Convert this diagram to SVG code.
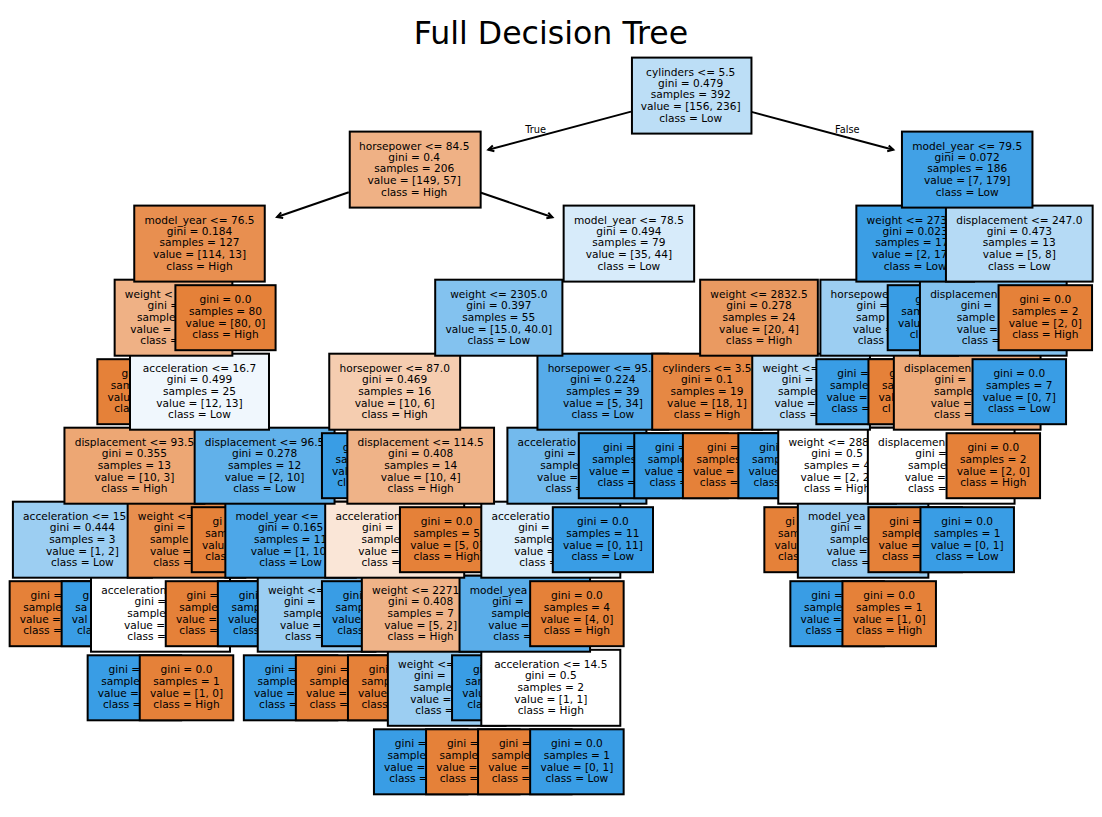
<svg xmlns="http://www.w3.org/2000/svg" width="1102" height="817" viewBox="0 0 1102 817">
<style>
rect{stroke:#000;stroke-width:2}
.o{fill:#e58139}.b{fill:#399de5}.w{fill:#ffffff}
text{font-family:"DejaVu Sans",sans-serif;font-size:10.6px;fill:#000;text-anchor:middle}
text.s{text-anchor:start}
.lbl{font-size:9.8px}
.t{font-size:31.6px}
.cn line{stroke:#000;stroke-width:2;marker-end:url(#ah)}
</style>
<defs>
<marker id="ah" markerUnits="userSpaceOnUse" markerWidth="14" markerHeight="14" viewBox="-8 -7 14 14" refX="0" refY="0" orient="auto">
<path d="M-5.5,-3 L0,0 L-5.5,3" fill="none" stroke="#000" stroke-width="2"/>
</marker>
</defs>
<text class="t" x="551" y="44">Full Decision Tree</text>

<g id="connectors" class="cn">
<line x1="631" y1="111.6" x2="488.3" y2="149.8"/>
<line x1="750.5" y1="111.6" x2="893.3" y2="149.8"/>
<line x1="348.8" y1="192.2" x2="277" y2="217"/>
<line x1="479.6" y1="192.2" x2="552.5" y2="217.3"/>
<text class="lbl" x="546" y="132.6" style="text-anchor:end">True</text>
<text class="lbl s" x="835" y="132.6">False</text>
</g>

<!-- depth 9 -->
<g id="n33"><rect class="b" x="373.95" y="729.3" width="93.5" height="65"/><text class="s" x="394.8" y="747.3">gini =</text><text class="s" x="387.5" y="758.8">sample</text><text class="s" x="384.1" y="770.6">value =</text><text class="s" x="389.2" y="782">class =</text></g>
<g id="n34"><rect class="o" x="426.05" y="729.3" width="93.5" height="65"/><text class="s" x="446.9" y="747.3">gini =</text><text class="s" x="439.6" y="758.8">sample</text><text class="s" x="436.2" y="770.6">value =</text><text class="s" x="439.65" y="782">class =</text></g>
<g id="n42"><rect class="o" x="478.05" y="729.3" width="93.5" height="65"/><text class="s" x="498.9" y="747.3">gini =</text><text class="s" x="491.6" y="758.8">sample</text><text class="s" x="488.2" y="770.6">value =</text><text class="s" x="491.65" y="782">class =</text></g>
<g id="n43"><rect class="b" x="530.15" y="729.3" width="93.5" height="65"/><text x="576.9" y="747.3">gini = 0.0</text><text x="576.9" y="758.8">samples = 1</text><text x="576.9" y="770.6">value = [0, 1]</text><text x="576.9" y="782">class = Low</text></g>

<!-- depth 8 -->
<g id="n12"><rect class="b" x="87.65" y="655.3" width="93.5" height="65"/><text class="s" x="108.5" y="673.3">gini =</text><text class="s" x="101.2" y="684.8">sample</text><text class="s" x="97.8" y="696.6">value =</text><text class="s" x="102.9" y="708">class =</text></g>
<g id="n13"><rect class="o" x="139.75" y="655.3" width="93.5" height="65"/><text x="186.5" y="673.3">gini = 0.0</text><text x="186.5" y="684.8">samples = 1</text><text x="186.5" y="696.6">value = [1, 0]</text><text x="186.5" y="708">class = High</text></g>
<g id="n20"><rect class="b" x="243.85" y="655.3" width="93.5" height="65"/><text class="s" x="264.7" y="673.3">gini =</text><text class="s" x="257.4" y="684.8">sample</text><text class="s" x="254" y="696.6">value =</text><text class="s" x="259.1" y="708">class =</text></g>
<g id="n21"><rect class="o" x="295.85" y="655.3" width="93.5" height="65"/><text class="s" x="316.7" y="673.3">gini =</text><text class="s" x="309.4" y="684.8">sample</text><text class="s" x="306" y="696.6">value =</text><text class="s" x="309.45" y="708">class =</text></g>
<g id="n31"><rect class="o" x="347.95" y="655.3" width="93.5" height="65"/><text class="s" x="368.8" y="673.3">gini</text><text class="s" x="361.5" y="684.8">samp</text><text class="s" x="358.1" y="696.6">value</text><text class="s" x="361.55" y="708">class</text></g>
<g id="n32"><rect fill="#9ccef2" x="387.85" y="649.8" width="117.7" height="76"/><text class="s" x="398.05" y="668">weight &lt;=</text><text class="s" x="414.05" y="679.2">gini =</text><text class="s" x="413.5" y="690.6">sample</text><text class="s" x="410.15" y="702.6">value =</text><text class="s" x="415.2" y="713.8">class =</text></g>
<g id="n40"><rect class="b" x="452.05" y="655.3" width="93.5" height="65"/><text class="s" x="472.9" y="673.3">gi</text><text class="s" x="465.6" y="684.8">sam</text><text class="s" x="462.2" y="696.6">valu</text><text class="s" x="467.3" y="708">cla</text></g>
<g id="n41"><rect class="w" x="481.3" y="649.8" width="139" height="76"/><text x="550.8" y="668">acceleration &lt;= 14.5</text><text x="550.8" y="679.2">gini = 0.5</text><text x="550.8" y="690.6">samples = 2</text><text x="550.8" y="702.6">value = [1, 1]</text><text x="550.8" y="713.8">class = High</text></g>

<!-- depth 7 -->
<g id="n8"><rect class="o" x="9.65" y="581.2" width="93.5" height="65"/><text class="s" x="30.5" y="599.2">gini =</text><text class="s" x="23.2" y="610.7">sample</text><text class="s" x="19.8" y="622.5">value =</text><text class="s" x="23.25" y="633.9">class =</text></g>
<g id="n9"><rect class="b" x="61.65" y="581.2" width="93.5" height="65"/><text class="s" x="82.5" y="599.2">g</text><text class="s" x="75.2" y="610.7">sa</text><text class="s" x="71.8" y="622.5">val</text><text class="s" x="76.9" y="633.9">cla</text></g>
<g id="n11"><rect class="w" x="91" y="575.7" width="139" height="76"/><text class="s" x="101.2" y="593.9">acceleration</text><text class="s" x="134.6" y="605.1">gini =</text><text class="s" x="127.3" y="616.5">sample</text><text class="s" x="123.95" y="628.5">value =</text><text class="s" x="127.35" y="639.7">class =</text></g>
<g id="n14"><rect class="o" x="165.75" y="581.2" width="93.5" height="65"/><text class="s" x="186.6" y="599.2">gini =</text><text class="s" x="179.3" y="610.7">sample</text><text class="s" x="175.9" y="622.5">value =</text><text class="s" x="179.35" y="633.9">class =</text></g>
<g id="n18"><rect class="b" x="217.85" y="581.2" width="93.5" height="65"/><text class="s" x="238.7" y="599.2">gini</text><text class="s" x="231.4" y="610.7">samp</text><text class="s" x="228" y="622.5">value</text><text class="s" x="233.1" y="633.9">class</text></g>
<g id="n19"><rect fill="#9ccef2" x="257.75" y="575.7" width="117.7" height="76"/><text class="s" x="267.95" y="593.9">weight &lt;=</text><text class="s" x="283.95" y="605.1">gini =</text><text class="s" x="283.4" y="616.5">sample</text><text class="s" x="280.05" y="628.5">value =</text><text class="s" x="285.1" y="639.7">class =</text></g>
<g id="n29"><rect class="b" x="321.95" y="581.2" width="93.5" height="65"/><text class="s" x="342.8" y="599.2">gini</text><text class="s" x="335.5" y="610.7">samp</text><text class="s" x="332.1" y="622.5">value</text><text class="s" x="337.2" y="633.9">class</text></g>
<g id="n30"><rect fill="#efb388" x="361.85" y="575.7" width="117.7" height="76"/><text class="s" x="372.05" y="593.9">weight &lt;= 2271</text><text x="420.7" y="605.1">gini = 0.408</text><text x="420.7" y="616.5">samples = 7</text><text x="420.7" y="628.5">value = [5, 2]</text><text x="420.7" y="639.7">class = High</text></g>
<g id="n39"><rect fill="#5aade9" x="459.55" y="575.7" width="130.5" height="76"/><text class="s" x="469.75" y="593.9">model_yea</text><text class="s" x="492.15" y="605.1">gini =</text><text class="s" x="491.6" y="616.5">sample</text><text class="s" x="488.25" y="628.5">value =</text><text class="s" x="493.3" y="639.7">class =</text></g>
<g id="n44"><rect class="o" x="530.15" y="581.2" width="93.5" height="65"/><text x="576.9" y="599.2">gini = 0.0</text><text x="576.9" y="610.7">samples = 4</text><text x="576.9" y="622.5">value = [4, 0]</text><text x="576.9" y="633.9">class = High</text></g>
<g id="n56"><rect class="b" x="790.35" y="581.2" width="93.5" height="65"/><text class="s" x="811.2" y="599.2">gini =</text><text class="s" x="803.9" y="610.7">sample</text><text class="s" x="800.5" y="622.5">value =</text><text class="s" x="805.6" y="633.9">class =</text></g>
<g id="n57"><rect class="o" x="842.45" y="581.2" width="93.5" height="65"/><text x="889.2" y="599.2">gini = 0.0</text><text x="889.2" y="610.7">samples = 1</text><text x="889.2" y="622.5">value = [1, 0]</text><text x="889.2" y="633.9">class = High</text></g>

<!-- depth 6 -->
<g id="n7"><rect fill="#9ccef2" x="12.9" y="501.7" width="139" height="76"/><text class="s" x="23.1" y="519.9">acceleration &lt;= 15</text><text x="82.4" y="531.1">gini = 0.444</text><text x="82.4" y="542.5">samples = 3</text><text x="82.4" y="554.5">value = [1, 2]</text><text x="82.4" y="565.7">class = Low</text></g>
<g id="n10"><rect fill="#e88f4f" x="127.65" y="501.7" width="117.7" height="76"/><text class="s" x="137.85" y="519.9">weight &lt;=</text><text class="s" x="153.85" y="531.1">gini =</text><text class="s" x="149.9" y="542.5">sample</text><text class="s" x="149.95" y="554.5">value =</text><text class="s" x="153.35" y="565.7">class =</text></g>
<g id="n16"><rect class="o" x="191.75" y="507.2" width="93.5" height="65"/><text class="s" x="212.6" y="525.2">gi</text><text class="s" x="205.3" y="536.7">sam</text><text class="s" x="201.9" y="548.5">valu</text><text class="s" x="205.35" y="559.9">clas</text></g>
<g id="n17"><rect fill="#4da7e8" x="225.35" y="501.7" width="130.5" height="76"/><text class="s" x="235.55" y="519.9">model_year &lt;=</text><text x="290.6" y="531.1">gini = 0.165</text><text x="290.6" y="542.5">samples = 11</text><text class="s" x="250.7" y="554.5">value = [1, 10</text><text x="290.6" y="565.7">class = Low</text></g>
<g id="n28"><rect fill="#fae6d7" x="325.2" y="501.7" width="139" height="76"/><text class="s" x="335.4" y="519.9">acceleration</text><text class="s" x="362.05" y="531.1">gini =</text><text class="s" x="361.5" y="542.5">sample</text><text class="s" x="358.15" y="554.5">value =</text><text class="s" x="361.55" y="565.7">class =</text></g>
<g id="n35"><rect class="o" x="399.95" y="507.2" width="93.5" height="65"/><text x="446.7" y="525.2">gini = 0.0</text><text x="446.7" y="536.7">samples = 5</text><text x="446.7" y="548.5">value = [5, 0]</text><text x="446.7" y="559.9">class = High</text></g>
<g id="n38"><rect fill="#deeffb" x="481.3" y="501.7" width="139" height="76"/><text class="s" x="491.5" y="519.9">acceleratio</text><text class="s" x="518.15" y="531.1">gini =</text><text class="s" x="514.2" y="542.5">sample</text><text class="s" x="514.25" y="554.5">value =</text><text class="s" x="519.3" y="565.7">class =</text></g>
<g id="n45"><rect class="b" x="552.8" y="507.2" width="100.2" height="65"/><text x="602.9" y="525.2">gini = 0.0</text><text x="602.9" y="536.7">samples = 11</text><text x="602.9" y="548.5">value = [0, 11]</text><text x="602.9" y="559.9">class = Low</text></g>
<g id="n54"><rect class="o" x="764.35" y="507.2" width="93.5" height="65"/><text class="s" x="785.2" y="525.2">gi</text><text class="s" x="777.9" y="536.7">sam</text><text class="s" x="774.5" y="548.5">valu</text><text class="s" x="777.95" y="559.9">clas</text></g>
<g id="n55"><rect fill="#9ccef2" x="797.85" y="501.7" width="130.5" height="76"/><text class="s" x="808.05" y="519.9">model_yea</text><text class="s" x="830.45" y="531.1">gini =</text><text class="s" x="829.9" y="542.5">sample</text><text class="s" x="826.55" y="554.5">value =</text><text class="s" x="831.6" y="565.7">class =</text></g>
<g id="n68"><rect class="o" x="868.45" y="507.2" width="93.5" height="65"/><text class="s" x="889.3" y="525.2">gini =</text><text class="s" x="882" y="536.7">sample</text><text class="s" x="878.6" y="548.5">value =</text><text class="s" x="882.05" y="559.9">class =</text></g>
<g id="n69"><rect class="b" x="920.45" y="507.2" width="93.5" height="65"/><text x="967.2" y="525.2">gini = 0.0</text><text x="967.2" y="536.7">samples = 1</text><text x="967.2" y="548.5">value = [0, 1]</text><text x="967.2" y="559.9">class = Low</text></g>

<!-- depth 5 -->
<g id="n6"><rect fill="#eda774" x="64.45" y="427.7" width="139.9" height="76"/><text x="134.4" y="445.9">displacement &lt;= 93.5</text><text x="134.4" y="457.1">gini = 0.355</text><text x="134.4" y="468.5">samples = 13</text><text x="134.4" y="480.5">value = [10, 3]</text><text x="134.4" y="491.7">class = High</text></g>
<g id="n15"><rect fill="#61b1ea" x="194.65" y="427.7" width="139.9" height="76"/><text x="264.6" y="445.9">displacement &lt;= 96.5</text><text x="264.6" y="457.1">gini = 0.278</text><text x="264.6" y="468.5">samples = 12</text><text x="264.6" y="480.5">value = [2, 10]</text><text x="264.6" y="491.7">class = Low</text></g>
<g id="n26"><rect class="b" x="321.95" y="433.2" width="93.5" height="65"/><text class="s" x="342.8" y="451.2">g</text><text class="s" x="335.5" y="462.7">sa</text><text class="s" x="332.1" y="474.5">val</text><text class="s" x="337.2" y="485.9">cl</text></g>
<g id="n27"><rect fill="#efb388" x="347.35" y="427.7" width="146.7" height="76"/><text x="420.7" y="445.9">displacement &lt;= 114.5</text><text x="420.7" y="457.1">gini = 0.408</text><text x="420.7" y="468.5">samples = 14</text><text x="420.7" y="480.5">value = [10, 4]</text><text x="420.7" y="491.7">class = High</text></g>
<g id="n37"><rect fill="#73baed" x="507.4" y="427.7" width="139" height="76"/><text class="s" x="517.6" y="445.9">acceleratio</text><text class="s" x="544.25" y="457.1">gini =</text><text class="s" x="540.3" y="468.5">sample</text><text class="s" x="537" y="480.5">value =</text><text class="s" x="545.4" y="491.7">class =</text></g>
<g id="n46"><rect class="b" x="578.8" y="433.2" width="100.2" height="65"/><text class="s" x="603" y="451.2">gini =</text><text class="s" x="592.3" y="462.7">samples</text><text class="s" x="589" y="474.5">value =</text><text class="s" x="597.4" y="485.9">class =</text></g>
<g id="n49"><rect class="b" x="634.25" y="433.2" width="93.5" height="65"/><text class="s" x="655.1" y="451.2">gini =</text><text class="s" x="647.8" y="462.7">sample</text><text class="s" x="644.4" y="474.5">value =</text><text class="s" x="649.5" y="485.9">class =</text></g>
<g id="n50"><rect class="o" x="682.9" y="433.2" width="100.2" height="65"/><text class="s" x="707.1" y="451.2">gini =</text><text class="s" x="696.4" y="462.7">samples</text><text class="s" x="693.1" y="474.5">value =</text><text class="s" x="699.85" y="485.9">class =</text></g>
<g id="n52"><rect class="b" x="738.35" y="433.2" width="93.5" height="65"/><text class="s" x="759.2" y="451.2">gini</text><text class="s" x="751.9" y="462.7">samp</text><text class="s" x="748.5" y="474.5">value</text><text class="s" x="753.6" y="485.9">class</text></g>
<g id="n53"><rect class="w" x="778.25" y="427.7" width="117.7" height="76"/><text class="s" x="788.45" y="445.9">weight &lt;= 288</text><text x="837.1" y="457.1">gini = 0.5</text><text x="837.1" y="468.5">samples = 4</text><text class="s" x="800.55" y="480.5">value = [2, 2</text><text x="837.1" y="491.7">class = High</text></g>
<g id="n67"><rect class="w" x="867.85" y="427.7" width="146.7" height="76"/><text class="s" x="878.05" y="445.9">displacemen</text><text class="s" x="915.3" y="457.1">gini =</text><text class="s" x="908" y="468.5">sample</text><text class="s" x="904.65" y="480.5">value =</text><text class="s" x="908.05" y="491.7">class =</text></g>
<g id="n70"><rect class="o" x="946.55" y="433.2" width="93.5" height="65"/><text x="993.3" y="451.2">gini = 0.0</text><text x="993.3" y="462.7">samples = 2</text><text x="993.3" y="474.5">value = [2, 0]</text><text x="993.3" y="485.9">class = High</text></g>

<!-- depth 4 -->
<g id="n4"><rect class="o" x="97.35" y="359.2" width="100.2" height="65"/><text class="s" x="121.55" y="377.2">gi</text><text class="s" x="110.85" y="388.7">sam</text><text class="s" x="107.55" y="400.5">valu</text><text class="s" x="114.3" y="411.9">cla</text></g>
<g id="n5"><rect fill="#f0f7fd" x="130" y="353.7" width="139" height="76"/><text x="199.5" y="371.9">acceleration &lt;= 16.7</text><text x="199.5" y="383.1">gini = 0.499</text><text x="199.5" y="394.5">samples = 25</text><text x="199.5" y="406.5">value = [12, 13]</text><text x="199.5" y="417.7">class = Low</text></g>
<g id="n25"><rect fill="#f5cdb0" x="329.25" y="353.7" width="130.9" height="76"/><text x="394.7" y="371.9">horsepower &lt;= 87.0</text><text x="394.7" y="383.1">gini = 0.469</text><text x="394.7" y="394.5">samples = 16</text><text x="394.7" y="406.5">value = [10, 6]</text><text x="394.7" y="417.7">class = High</text></g>
<g id="n36"><rect fill="#56abe9" x="537.45" y="353.7" width="130.9" height="76"/><text class="s" x="547.65" y="371.9">horsepower &lt;= 95.</text><text x="602.9" y="383.1">gini = 0.224</text><text x="602.9" y="394.5">samples = 39</text><text x="602.9" y="406.5">value = [5, 34]</text><text x="602.9" y="417.7">class = Low</text></g>
<g id="n48"><rect fill="#e68844" x="652.2" y="353.7" width="109.6" height="76"/><text x="707" y="371.9">cylinders &lt;= 3.5</text><text x="707" y="383.1">gini = 0.1</text><text x="707" y="394.5">samples = 19</text><text x="707" y="406.5">value = [18, 1]</text><text x="707" y="417.7">class = High</text></g>
<g id="n51"><rect fill="#bddef6" x="752.25" y="353.7" width="117.7" height="76"/><text class="s" x="762.45" y="371.9">weight &lt;=</text><text class="s" x="781.8" y="383.1">gini =</text><text class="s" x="777.9" y="394.5">sample</text><text class="s" x="774.55" y="406.5">value =</text><text class="s" x="779.6" y="417.7">class =</text></g>
<g id="n61"><rect class="b" x="816.35" y="359.2" width="93.5" height="65"/><text class="s" x="837.2" y="377.2">gini =</text><text class="s" x="829.9" y="388.7">sample</text><text class="s" x="826.5" y="400.5">value =</text><text class="s" x="831.6" y="411.9">class =</text></g>
<g id="n62"><rect class="o" x="868.45" y="359.2" width="93.5" height="65"/><text class="s" x="889.3" y="377.2">g</text><text class="s" x="882" y="388.7">sa</text><text class="s" x="878.6" y="400.5">val</text><text class="s" x="882.05" y="411.9">cl</text></g>
<g id="n66"><rect fill="#eeab7b" x="893.85" y="353.7" width="146.7" height="76"/><text class="s" x="904.05" y="371.9">displacemen</text><text class="s" x="934.55" y="383.1">gini =</text><text class="s" x="934" y="394.5">sample</text><text class="s" x="930.65" y="406.5">value =</text><text class="s" x="934.05" y="417.7">class =</text></g>
<g id="n71"><rect class="b" x="972.55" y="359.2" width="93.5" height="65"/><text x="1019.3" y="377.2">gini = 0.0</text><text x="1019.3" y="388.7">samples = 7</text><text x="1019.3" y="400.5">value = [0, 7]</text><text x="1019.3" y="411.9">class = Low</text></g>

<!-- depth 3 -->
<g id="n3"><rect fill="#efb185" x="114.65" y="279.7" width="117.7" height="76"/><text class="s" x="124.85" y="297.9">weight &lt;</text><text class="s" x="147.6" y="309.1">gini =</text><text class="s" x="136.9" y="320.5">sample</text><text class="s" x="130.2" y="332.5">value =</text><text class="s" x="140.35" y="343.7">class =</text></g>
<g id="n22"><rect class="o" x="175.4" y="285.2" width="100.2" height="65"/><text x="225.5" y="303.2">gini = 0.0</text><text x="225.5" y="314.7">samples = 80</text><text x="225.5" y="326.5">value = [80, 0]</text><text x="225.5" y="337.9">class = High</text></g>
<g id="n24"><rect fill="#83c2ef" x="435.2" y="279.7" width="127.2" height="76"/><text x="498.8" y="297.9">weight &lt;= 2305.0</text><text x="498.8" y="309.1">gini = 0.397</text><text x="498.8" y="320.5">samples = 55</text><text x="498.8" y="332.5">value = [15.0, 40.0]</text><text x="498.8" y="343.7">class = Low</text></g>
<g id="n47"><rect fill="#ea9a61" x="700.15" y="279.7" width="117.7" height="76"/><text x="759" y="297.9">weight &lt;= 2832.5</text><text x="759" y="309.1">gini = 0.278</text><text x="759" y="320.5">samples = 24</text><text x="759" y="332.5">value = [20, 4]</text><text x="759" y="343.7">class = High</text></g>
<g id="n60"><rect fill="#9ccef2" x="820.4" y="279.7" width="137.6" height="76"/><text class="s" x="830.6" y="297.9">horsepowe</text><text class="s" x="856.55" y="309.1">gini =</text><text class="s" x="855.95" y="320.5">samp</text><text class="s" x="852.65" y="332.5">value =</text><text class="s" x="857.7" y="343.7">class</text></g>
<g id="n63"><rect class="b" x="887.7" y="285.2" width="107" height="65"/><text class="s" x="915.3" y="303.2">g</text><text class="s" x="901.25" y="314.7">sam</text><text class="s" x="897.9" y="326.5">valu</text><text class="s" x="909.7" y="337.9">cl</text></g>
<g id="n65"><rect fill="#83c2ef" x="919.95" y="279.7" width="146.7" height="76"/><text class="s" x="930.15" y="297.9">displacemen</text><text class="s" x="960.65" y="309.1">gini =</text><text class="s" x="956.7" y="320.5">sample</text><text class="s" x="956.75" y="332.5">value =</text><text class="s" x="961.8" y="343.7">class =</text></g>
<g id="n72"><rect class="o" x="998.55" y="285.2" width="93.5" height="65"/><text x="1045.3" y="303.2">gini = 0.0</text><text x="1045.3" y="314.7">samples = 2</text><text x="1045.3" y="326.5">value = [2, 0]</text><text x="1045.3" y="337.9">class = High</text></g>

<!-- depth 2 -->
<g id="n2"><rect fill="#e88f50" x="134.25" y="205.6" width="130.5" height="76"/><text x="199.5" y="223.8">model_year &lt;= 76.5</text><text x="199.5" y="235">gini = 0.184</text><text x="199.5" y="246.4">samples = 127</text><text x="199.5" y="258.4">value = [114, 13]</text><text x="199.5" y="269.6">class = High</text></g>
<g id="n23"><rect fill="#d7ebfa" x="563.65" y="205.6" width="130.5" height="76"/><text x="628.9" y="223.8">model_year &lt;= 78.5</text><text x="628.9" y="235">gini = 0.494</text><text x="628.9" y="246.4">samples = 79</text><text x="628.9" y="258.4">value = [35, 44]</text><text x="628.9" y="269.6">class = Low</text></g>
<g id="n59"><rect fill="#3b9ee5" x="856.35" y="205.6" width="117.7" height="76"/><text class="s" x="866.55" y="223.8">weight &lt;= 273</text><text x="915.2" y="235">gini = 0.023</text><text class="s" x="875.25" y="246.4">samples = 17</text><text class="s" x="871.9" y="258.4">value = [2, 17</text><text x="915.2" y="269.6">class = Low</text></g>
<g id="n64"><rect fill="#b5daf5" x="945.95" y="205.6" width="146.7" height="76"/><text x="1019.3" y="223.8">displacement &lt;= 247.0</text><text x="1019.3" y="235">gini = 0.473</text><text x="1019.3" y="246.4">samples = 13</text><text x="1019.3" y="258.4">value = [5, 8]</text><text x="1019.3" y="269.6">class = Low</text></g>

<!-- depth 1 -->
<g id="n1"><rect fill="#efb185" x="349.75" y="131.6" width="130.9" height="76"/><text x="414.2" y="149.8">horsepower &lt;= 84.5</text><text x="414.2" y="161">gini = 0.4</text><text x="414.2" y="172.4">samples = 206</text><text x="414.2" y="184.4">value = [149, 57]</text><text x="414.2" y="195.6">class = High</text></g>
<g id="n58"><rect fill="#41a1e6" x="901.95" y="131.6" width="130.5" height="76"/><text x="967.2" y="149.8">model_year &lt;= 79.5</text><text x="967.2" y="161">gini = 0.072</text><text x="967.2" y="172.4">samples = 186</text><text x="967.2" y="184.4">value = [7, 179]</text><text x="967.2" y="195.6">class = Low</text></g>

<!-- depth 0 -->
<g id="n0"><rect fill="#bcdef6" x="631.95" y="57.6" width="119.5" height="76"/><text x="690.7" y="75.8">cylinders &lt;= 5.5</text><text x="690.7" y="87">gini = 0.479</text><text x="690.7" y="98.4">samples = 392</text><text x="690.7" y="110.4">value = [156, 236]</text><text x="690.7" y="121.6">class = Low</text></g>
</svg>
